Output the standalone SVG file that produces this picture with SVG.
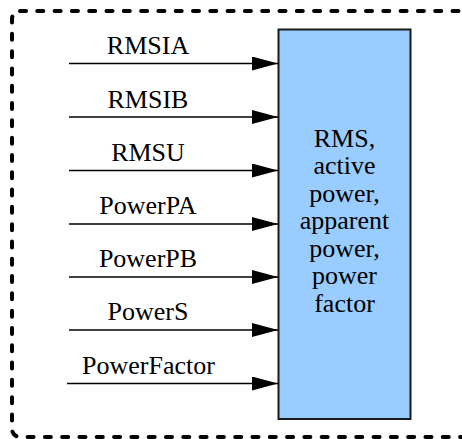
<svg xmlns="http://www.w3.org/2000/svg" width="462" height="439" viewBox="0 0 462 439">
<defs>
<style>
text{font-family:'Times New Roman',Tinos,'DejaVu Serif',serif;font-size:26px;fill:#000;text-anchor:middle}
.wire{stroke:#000;stroke-width:1.6;fill:none}
</style>
<marker id="arr" markerUnits="userSpaceOnUse" markerWidth="26" markerHeight="14" refX="26" refY="7" orient="auto">
<path d="M0,0 L26,7 L0,14 Z" fill="#000"/>
</marker>
</defs>
<rect id="frame" x="12" y="11" width="480" height="426" rx="8" fill="none" stroke="#000" stroke-width="4" stroke-dasharray="6 11.3" stroke-linecap="round"/>
<g id="connectors">
<line class="wire" x1="69" y1="63.5" x2="278" y2="63.5" marker-end="url(#arr)"/>
<line class="wire" x1="69" y1="117" x2="278" y2="117" marker-end="url(#arr)"/>
<line class="wire" x1="69" y1="170.5" x2="278" y2="170.5" marker-end="url(#arr)"/>
<line class="wire" x1="69" y1="224" x2="278" y2="224" marker-end="url(#arr)"/>
<line class="wire" x1="69" y1="277" x2="278" y2="277" marker-end="url(#arr)"/>
<line class="wire" x1="69" y1="330" x2="278" y2="330" marker-end="url(#arr)"/>
<line class="wire" x1="67" y1="383.5" x2="278" y2="383.5" marker-end="url(#arr)"/>
<text x="148" y="54">RMSIA</text>
<text x="148" y="107.5">RMSIB</text>
<text x="148" y="161">RMSU</text>
<text x="148" y="213.5">PowerPA</text>
<text x="148" y="267">PowerPB</text>
<text x="148" y="319.5">PowerS</text>
<text x="148.5" y="373.5">PowerFactor</text>
</g>
<g id="block">
<rect x="278.5" y="29.5" width="132" height="389.5" fill="#99CCFF" stroke="#1a1a1a" stroke-width="2"/>
<text x="344.5" y="146.7">RMS,</text>
<text x="344.5" y="174.2">active</text>
<text x="344.5" y="201.7">power,</text>
<text x="344.5" y="229.2">apparent</text>
<text x="344.5" y="256.7">power,</text>
<text x="344.5" y="284.2">power</text>
<text x="344.5" y="311.7">factor</text>
</g>
</svg>
